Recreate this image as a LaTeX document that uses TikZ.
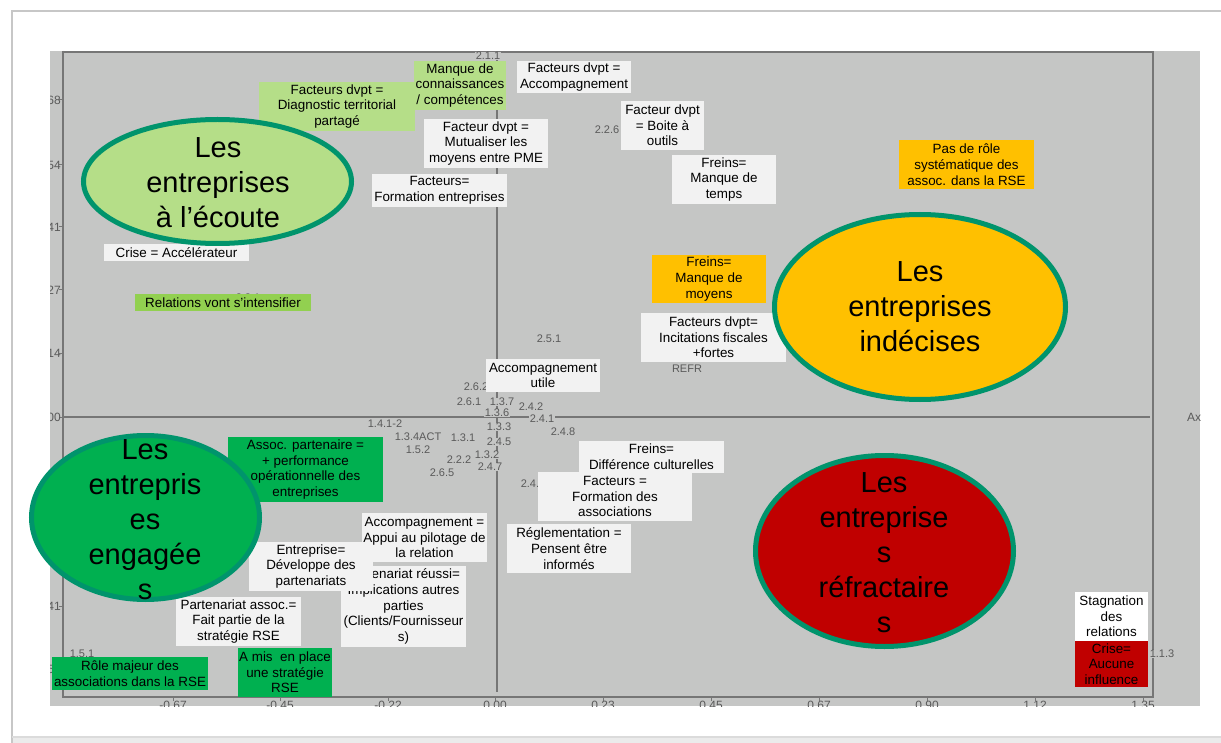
\documentclass[tikz,border=0pt]{standalone}
\usepackage{fontspec}
\setmainfont{Liberation Sans}
\usetikzlibrary{shapes.geometric}

% palette
\definecolor{plotgray}{RGB}{197,198,197}
\definecolor{axisgray}{RGB}{118,118,118}
\definecolor{ticklabel}{RGB}{90,90,90}
\definecolor{notegray}{RGB}{242,242,242}
\definecolor{palegreen}{RGB}{181,222,136}
\definecolor{leafgreen}{RGB}{146,208,80}
\definecolor{deepgreen}{RGB}{0,176,80}
\definecolor{amber}{RGB}{255,192,0}
\definecolor{crimson}{RGB}{192,0,0}
\definecolor{rim}{RGB}{0,148,108}

\newcommand{\notefont}{\fontsize{13.4}{15.7}\selectfont}
\newcommand{\bigfont}{\fontsize{29}{35}\selectfont}
\newcommand{\smallnum}{\fontsize{11}{12}\selectfont}
\newcommand{\axisnum}{\fontsize{12}{13}\selectfont}

\tikzset{
  notebox/.style={rectangle, inner sep=0pt, align=center, font=\notefont, text=black},
  blob/.style={ellipse, draw=rim, line width=5pt, inner sep=0pt},
  blobtext/.style={align=center, font=\bigfont, inner sep=0pt, text=black},
  ticktext/.style={font=\axisnum, text=ticklabel, inner sep=0pt},
  pointlabel/.style={font=\smallnum, text=ticklabel, fill=plotgray, inner sep=0.6pt},
}

\begin{document}
\begin{tikzpicture}[x=1pt,y=-1pt]
\useasboundingbox (0,0) rectangle (1221,743);

% slide frame
\fill[white] (0,0) rectangle (1221,743);
\fill[black!8] (12,737) rectangle (1221,743);
\draw[black!22, line width=2.5pt] (12,743) -- (12,11) -- (1230,11);
\draw[black!14, line width=1.5pt] (12,737) -- (1230,737);

% plot background and frame
\fill[plotgray] (50,51) rectangle (1200,706);
\draw[axisgray, line width=1.2pt] (63,52) -- (1153,52) -- (1153,697) -- (63,697);
\draw[axisgray, line width=2.2pt] (63,51) -- (63,698);

% axes through the origin
\draw[axisgray, line width=1.3pt] (63,417) -- (1150,417);
\draw[axisgray, line width=1.3pt] (497,52) -- (497,692);

% tick marks and tick labels
\begin{scope}
\clip (50,51) rectangle (1200,706);
\foreach \y/\t in {100/0.68,165/0.54,227/0.41,290/0.27,353/0.14,417/0.00,480/-0.14,543/-0.27,606/-0.41,669/-0.54}{
  \draw[axisgray, line width=1pt] (59,\y) -- (63,\y);
  \node[ticktext, anchor=east] (ytick\y) at (61,\y) {\t};
}
\foreach \x/\t in {173/-0.67,280/-0.45,388/-0.22,495/0.00,603/0.23,711/0.45,819/0.67,927/0.90,1035/1.12,1143/1.35}{
  \draw[axisgray, line width=1pt] (\x,697) -- (\x,701);
  \node[ticktext, anchor=north] (xtick\x) at (\x,700.5) {\t};
}
\node[ticktext, anchor=west] (axname) at (1187,417) {Axe};
\node[pointlabel] (p211) at (488,56) {2.1.1};
\end{scope}

% point labels
\node[pointlabel] (p226) at (607,130) {2.2.6};
\begin{scope}
\clip (200,280) rectangle (300,294);
\node[pointlabel] (p221) at (248,298) {2.2.1};
\end{scope}
\node[pointlabel] (p251) at (549,339) {2.5.1};
\node[pointlabel] (prefr) at (687,369) {REFR};
\node[pointlabel] (p262) at (476,387) {2.6.2};
\node[pointlabel] (p261) at (469,402) {2.6.1};
\node[pointlabel] (p137) at (502,402) {1.3.7};
\node[pointlabel] (p242) at (531,407) {2.4.2};
\node[pointlabel] (p136) at (497,413) {1.3.6};
\node[pointlabel] (p241) at (542,419) {2.4.1};
\node[pointlabel] (p248) at (563,432) {2.4.8};
\node[pointlabel] (p1412) at (385,424) {1.4.1-2};
\node[pointlabel] (p133) at (499,427) {1.3.3};
\node[pointlabel] (p134) at (418,437) {1.3.4ACT};
\node[pointlabel] (p131) at (463,438) {1.3.1};
\node[pointlabel] (p245) at (499,442) {2.4.5};
\node[pointlabel] (p152) at (418,450) {1.5.2};
\node[pointlabel] (p132) at (487,455) {1.3.2};
\node[pointlabel] (p222) at (459,460) {2.2.2};
\node[pointlabel] (p247) at (490,467) {2.4.7};
\node[pointlabel] (p265) at (442,473) {2.6.5};
\node[pointlabel, anchor=west] (p24) at (520,484) {2.4.};
\node[pointlabel] (p151) at (82,654) {1.5.1};
\node[pointlabel] (p113) at (1162,654) {1.1.3};

% upper half notes
\node[notebox, fill=palegreen, minimum width=156pt, minimum height=49pt] (diag) at (337,106.5) {Facteurs dvpt =\\Diagnostic territorial\\partagé};
\node[notebox, fill=palegreen, minimum width=92pt, minimum height=49pt] (manque) at (460,85.5) {Manque de\\connaissances\\/ compétences};
\node[notebox, fill=notegray, minimum width=114pt, minimum height=32pt] (accomp) at (574,77) {Facteurs dvpt =\\Accompagnement};
\node[notebox, fill=notegray, minimum width=124pt, minimum height=49pt] (mutual) at (486,143.5) {Facteur dvpt =\\Mutualiser les\\moyens entre PME};
\node[notebox, fill=notegray, minimum width=135pt, minimum height=33pt] (forment) at (439.5,190.5) {Facteurs=\\Formation entreprises};
\node[notebox, fill=notegray, minimum width=83pt, minimum height=49pt] (boite) at (662.5,125.5) {Facteur dvpt\\= Boite à\\outils};
\node[notebox, fill=notegray, minimum width=104pt, minimum height=49pt] (temps) at (724,179.5) {Freins=\\Manque de\\temps};
\node[notebox, fill=amber, minimum width=135pt, minimum height=49pt] (pasrole) at (966.5,164.5) {Pas de rôle\\systématique des\\assoc. dans la RSE};
\node[notebox, fill=notegray, minimum width=145pt, minimum height=17pt] (crise) at (176.5,252.5) {Crise = Accélérateur};
\node[notebox, fill=leafgreen, minimum width=176pt, minimum height=17pt] (relations) at (223,302.5) {Relations vont s'intensifier};
\node[notebox, fill=amber, minimum width=114pt, minimum height=48pt] (moyens) at (709,279) {Freins=\\Manque de\\moyens};
\node[notebox, fill=notegray, minimum width=145pt, minimum height=49pt] (incit) at (713.5,337.5) {Facteurs dvpt=\\Incitations fiscales\\+fortes};
\node[notebox, fill=notegray, minimum width=114pt, minimum height=33pt] (utile) at (543,375.5) {Accompagnement\\utile};

% lower half notes
\node[notebox, fill=deepgreen, minimum width=155pt, minimum height=65pt] (perf) at (305.5,469.5) {Assoc. partenaire =\\+ performance\\opérationnelle des\\entreprises};
\node[notebox, fill=notegray, minimum width=145pt, minimum height=32pt] (cult) at (651.5,457) {Freins=\\Différence culturelles};
\node[notebox, fill=notegray, minimum width=154pt, minimum height=49pt] (formassoc) at (615,496.5) {Facteurs =\\Formation des\\associations};
\node[notebox, fill=notegray, minimum width=125pt, minimum height=49pt] (pilotage) at (424.5,537.5) {Accompagnement =\\Appui au pilotage de\\la relation};
\node[notebox, fill=notegray, minimum width=124pt, minimum height=49pt] (regl) at (569,548.5) {Réglementation =\\Pensent être\\informés};
\node[notebox, fill=notegray, minimum width=125pt, minimum height=81pt] (reussi) at (403.5,606.5) {Partenariat réussi=\\Implications autres\\parties\\(Clients/Fournisseur\\s)};
\node[notebox, fill=notegray, minimum width=124pt, minimum height=49pt] (devpart) at (311,566.5) {Entreprise=\\Développe des\\partenariats};
\node[notebox, fill=notegray, minimum width=125pt, minimum height=49pt] (strat) at (238.5,621.5) {Partenariat assoc.=\\Fait partie de la\\stratégie RSE};
\node[notebox, fill=deepgreen, minimum width=156pt, minimum height=33pt] (majeur) at (130,673.5) {Rôle majeur des\\associations dans la RSE};
\node[notebox, fill=deepgreen, minimum width=94pt, minimum height=49pt] (amis) at (285,672.5) {A mis~~en place\\une stratégie\\RSE};
\node[notebox, fill=white, minimum width=73pt, minimum height=49pt] (stagn) at (1111.5,616.5) {Stagnation\\des\\relations};
\node[notebox, fill=crimson, minimum width=73pt, minimum height=46pt] (aucune) at (1111.5,664) {Crise=\\Aucune\\influence};

% company groups
\node[blob, fill=palegreen, minimum width=268pt, minimum height=124pt] (ecoute) at (217.5,181.5) {};
\node[blobtext] (ecoutetxt) at (218,182.5) {Les\\entreprises\\à l’écoute};
\node[blob, fill=amber, minimum width=291pt, minimum height=185pt] (indecises) at (920,307) {};
\node[blobtext] (indecisestxt) at (920,307) {Les\\entreprises\\indécises};
\node[blob, fill=deepgreen, minimum width=228pt, minimum height=164pt] (engagees) at (145.5,517.5) {};
\node[blobtext] (engageestxt) at (145,520) {Les\\entrepris\\es\\engagée\\s};
\node[blob, fill=crimson, minimum width=258pt, minimum height=191pt] (refract) at (884.5,551) {};
\node[blobtext] (refracttxt) at (884,552.5) {Les\\entreprise\\s\\réfractaire\\s};
\end{tikzpicture}
\end{document}
